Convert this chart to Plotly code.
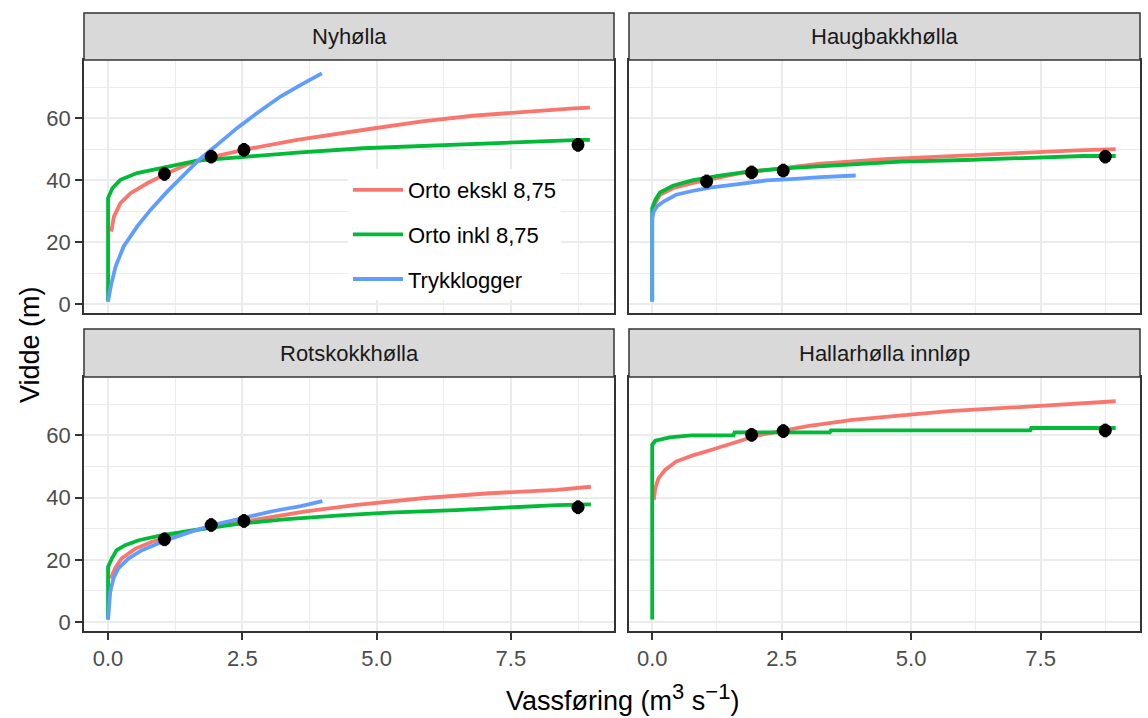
import plotly.graph_objects as go

# ---- data -------------------------------------------------------------
panel_titles = ["Nyhølla", "Haugbakkhølla", "Rotskokkhølla", "Hallarhølla innløp"]
series_names = ["Orto ekskl 8,75", "Orto inkl 8,75", "Trykklogger"]
series_colors = ["#F8766D", "#00BA38", "#619CFF"]

x_ticks = [0, 2.5, 5, 7.5]
x_tick_labels = ["0.0", "2.5", "5.0", "7.5"]
y_ticks = [0, 20, 40, 60]
y_tick_labels = ["0", "20", "40", "60"]

# Nyhølla
ny_ekskl_q = [0.06, 0.11, 0.23, 0.42, 0.73, 1.04, 1.53, 1.97, 2.59, 3.52, 4.9, 5.85, 6.79, 7.73, 8.67, 8.97]
ny_ekskl_w = [23.4, 28.3, 32.6, 35.8, 39.0, 41.7, 45.5, 47.6, 50.0, 53.0, 56.6, 59.0, 60.8, 62.1, 63.2, 63.4]
ny_inkl_q = [0, 0, 0.08, 0.23, 0.54, 1.04, 1.66, 2.59, 3.52, 4.75, 5.85, 7.1, 8.8, 8.97]
ny_inkl_w = [0.8, 34.2, 37.4, 40.1, 42.3, 44.2, 46.3, 47.6, 48.9, 50.3, 51.1, 51.9, 53.0, 53.0]
ny_trykk_q = [0, 0.05, 0.14, 0.29, 0.54, 0.79, 1.10, 1.41, 1.69, 2.03, 2.40, 2.77, 3.21, 3.58, 3.98]
ny_trykk_w = [0.8, 5.7, 12.1, 18.6, 25.0, 30.4, 36.3, 41.7, 46.5, 51.4, 56.8, 61.6, 67.0, 70.7, 74.5]
ny_obs_q = [1.05, 1.92, 2.53, 8.75]
ny_obs_w = [42.0, 47.6, 49.8, 51.4]

# Haugbakkhølla
hb_ekskl_q = [0, 0.06, 0.15, 0.4, 0.77, 1.21, 1.70, 2.32, 3.25, 4.49, 5.73, 6.97, 8.21, 8.95]
hb_ekskl_w = [29.4, 32.6, 35.3, 37.4, 39.0, 40.6, 42.3, 43.5, 45.3, 46.8, 47.8, 48.7, 49.6, 50.0]
hb_inkl_q = [0, 0, 0.06, 0.15, 0.4, 0.77, 1.27, 1.89, 2.63, 3.56, 4.8, 6.04, 7.28, 8.33, 8.95]
hb_inkl_w = [0.8, 31.0, 33.6, 36.0, 38.2, 39.9, 41.4, 42.8, 43.9, 44.9, 46.0, 46.5, 47.3, 47.8, 47.8]
hb_trykk_q = [0, 0, 0.03, 0.09, 0.22, 0.46, 0.77, 1.15, 1.70, 2.2, 2.76, 3.25, 3.93]
hb_trykk_w = [0.8, 27.7, 29.9, 31.5, 33.1, 35.3, 36.5, 37.7, 38.8, 39.9, 40.4, 41.0, 41.5]
hb_obs_q = [1.05, 1.92, 2.53, 8.75]
hb_obs_w = [39.6, 42.5, 43.1, 47.6]

# Rotskokkhølla
rk_ekskl_q = [0.05, 0.13, 0.25, 0.51, 0.82, 1.32, 1.95, 2.7, 3.65, 4.59, 5.85, 7.1, 8.36, 8.99]
rk_ekskl_w = [14.0, 17.2, 20.4, 23.6, 25.8, 28.5, 30.6, 32.8, 35.5, 37.6, 39.8, 41.4, 42.5, 43.5]
rk_inkl_q = [0, 0, 0.07, 0.16, 0.32, 0.57, 1.01, 1.57, 2.39, 3.33, 4.4, 5.22, 6.48, 7.42, 8.36, 8.99]
rk_inkl_w = [0.8, 17.7, 20.4, 23.1, 24.7, 26.3, 27.9, 29.5, 31.5, 33.1, 34.4, 35.2, 36.0, 36.8, 37.6, 37.8]
rk_trykk_q = [0, 0.04, 0.1, 0.19, 0.38, 0.63, 1.01, 1.45, 1.95, 2.52, 3.08, 3.59, 3.99]
rk_trykk_w = [0.8, 9.7, 14.0, 17.2, 20.4, 23.1, 25.8, 28.5, 31.2, 33.6, 35.7, 37.3, 38.9]
rk_obs_q = [1.05, 1.92, 2.53, 8.75]
rk_obs_w = [26.6, 31.2, 32.5, 36.9]

# Hallarhølla innløp
hl_ekskl_q = [0.03, 0.06, 0.12, 0.25, 0.46, 0.77, 1.15, 1.58, 2.01, 2.51, 3.0, 3.87, 4.8, 5.73, 6.97, 8.21, 8.95]
hl_ekskl_w = [39.2, 43.0, 46.2, 48.9, 51.6, 53.5, 55.4, 57.8, 59.9, 61.5, 63.0, 65.0, 66.5, 67.8, 69.0, 70.1, 71.0]
hl_inkl_q = [0, 0, 0.06, 0.22, 0.34, 0.75, 1.57, 1.59, 3.43, 3.45, 7.3, 7.32, 8.95]
hl_inkl_w = [0.8, 57.0, 58.3, 58.9, 59.4, 60.0, 60.0, 61.0, 61.0, 61.6, 61.6, 62.4, 62.4]
hl_obs_q = [1.92, 2.53, 8.75]
hl_obs_w = [60.2, 61.4, 61.6]

panel_series = [
    [(ny_ekskl_q, ny_ekskl_w), (ny_inkl_q, ny_inkl_w), (ny_trykk_q, ny_trykk_w)],
    [(hb_ekskl_q, hb_ekskl_w), (hb_inkl_q, hb_inkl_w), (hb_trykk_q, hb_trykk_w)],
    [(rk_ekskl_q, rk_ekskl_w), (rk_inkl_q, rk_inkl_w), (rk_trykk_q, rk_trykk_w)],
    [(hl_ekskl_q, hl_ekskl_w), (hl_inkl_q, hl_inkl_w), None],
]
panel_obs = [(ny_obs_q, ny_obs_w), (hb_obs_q, hb_obs_w), (rk_obs_q, rk_obs_w), (hl_obs_q, hl_obs_w)]

# ---- layout geometry (pixels on a 1148 x 718 canvas) -------------------
W, H = 1148, 718
col_px = [(84, 614), (629, 1140)]
row_px = [(60, 313), (377, 631)]      # plotting area, top -> bottom
strip_px = [(13, 60), (329, 377)]
FONT = "Liberation Sans, Arial, sans-serif"


def fx(px):
    return px / W


def fy(py):
    return 1 - py / H


fig = go.Figure()

for p in range(4):
    ax = "" if p == 0 else str(p + 1)
    for s, data in enumerate(panel_series[p]):
        if data is None:
            continue
        q, w = data
        fig.add_trace(go.Scatter(
            x=q, y=w, mode="lines", name=series_names[s],
            line=dict(color=series_colors[s], width=3.8),
            legendgroup=series_names[s], showlegend=(p == 0),
            xaxis="x" + ax, yaxis="y" + ax,
        ))
    oq, ow = panel_obs[p]
    fig.add_trace(go.Scatter(
        x=oq, y=ow, mode="markers", showlegend=False,
        marker=dict(color="black", size=13),
        error_y=dict(type="constant", value=2.2, color="black", thickness=4, width=0),
        xaxis="x" + ax, yaxis="y" + ax,
    ))

grid = "#EBEBEB"
layout = dict(
    width=W, height=H, margin=dict(l=0, r=0, t=0, b=0),
    paper_bgcolor="white", plot_bgcolor="white",
    font=dict(family=FONT, color="black"),
    showlegend=True,
    legend=dict(
        x=fx(348), y=fy(169), xanchor="left", yanchor="top",
        bgcolor="white", borderwidth=0,
        font=dict(size=22, color="black", family=FONT),
        traceorder="grouped", tracegroupgap=13, itemwidth=50,
    ),
    shapes=[], annotations=[],
)

for p in range(4):
    r, c = divmod(p, 2)
    suffix = "" if p == 0 else str(p + 1)
    x0, x1 = col_px[c]
    ytop, ybot = row_px[r]
    bottom = r == 1
    left = c == 0
    layout["xaxis" + suffix] = dict(
        domain=[fx(x0), fx(x1)], range=[-0.448, 9.42], anchor="y" + suffix,
        tickvals=x_ticks, ticktext=x_tick_labels, showticklabels=bottom,
        ticks="outside" if bottom else "", ticklen=7, tickwidth=1.5, tickcolor="#333333",
        tickfont=dict(size=22, color="#4D4D4D", family=FONT),
        showgrid=True, gridcolor=grid, gridwidth=2,
        minor=dict(tickvals=[1.25, 3.75, 6.25, 8.75], showgrid=True, gridcolor=grid, gridwidth=1.2),
        zeroline=False, showline=True, mirror=True, linecolor="#333333", linewidth=1.5,
        automargin=False, fixedrange=True,
    )
    layout["yaxis" + suffix] = dict(
        domain=[fy(ybot), fy(ytop)], range=[-2.9, 78.8], anchor="x" + suffix,
        tickvals=y_ticks, ticktext=y_tick_labels, showticklabels=left,
        ticks="outside" if left else "", ticklen=7, tickwidth=1.5, tickcolor="#333333",
        tickfont=dict(size=22, color="#4D4D4D", family=FONT),
        showgrid=True, gridcolor=grid, gridwidth=2,
        minor=dict(tickvals=[10, 30, 50, 70], showgrid=True, gridcolor=grid, gridwidth=1.2),
        zeroline=False, showline=True, mirror=True, linecolor="#333333", linewidth=1.5,
        automargin=False, fixedrange=True,
    )
    # facet strip
    s0, s1 = strip_px[r]
    layout["shapes"].append(dict(
        type="rect", xref="paper", yref="paper",
        x0=fx(x0), x1=fx(x1), y0=fy(s1), y1=fy(s0),
        fillcolor="#D9D9D9", line=dict(color="#333333", width=1.5), layer="above",
    ))
    layout["annotations"].append(dict(
        text=panel_titles[p], xref="paper", yref="paper",
        x=fx((x0 + x1) / 2), y=fy((s0 + s1) / 2), xanchor="center", yanchor="middle",
        showarrow=False, font=dict(size=22, color="#1A1A1A", family=FONT),
    ))

layout["annotations"].append(dict(
    text="Vidde (m)", xref="paper", yref="paper", x=fx(30), y=fy(345),
    xanchor="center", yanchor="middle", textangle=-90, showarrow=False,
    font=dict(size=27, color="black", family=FONT),
))
layout["annotations"].append(dict(
    text=("Vassføring (m<sup><span style='font-size:22px'>3</span></sup> "
          "s<sup><span style='font-size:22px'>−1</span></sup>)"),
    xref="paper", yref="paper",
    x=fx(622), y=fy(697), xanchor="center", yanchor="middle", showarrow=False,
    font=dict(size=27, color="black", family=FONT),
))

fig.update_layout(**layout)
fig.write_html("out.html")
